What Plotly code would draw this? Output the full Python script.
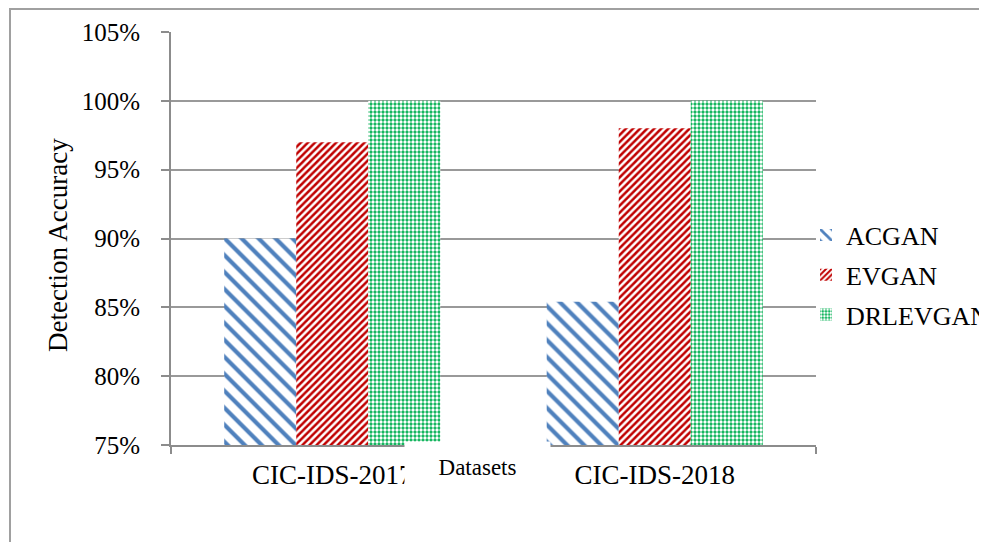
import plotly.graph_objects as go

categories = ["CIC-IDS-2017", "CIC-IDS-2018"]
acgan = [0.90, 0.854]
evgan = [0.97, 0.98]
drlevgan = [1.00, 1.00]
y_ticks = [0.75, 0.80, 0.85, 0.90, 0.95, 1.00, 1.05]
y_tick_labels = ["75%", "80%", "85%", "90%", "95%", "100%", "105%"]

FONT = "Liberation Serif, Times New Roman, serif"

# page body has a default offset; compensate so the plot sits where the reference has it
OX, OY = 8, 10
L, T = 171 - OX, 34 - OY
PW, PH = 645, 413

fig = go.Figure()
fig.add_trace(go.Bar(
    name="ACGAN", x=categories, y=acgan, legendgroup="a",
    marker=dict(color="#4F81BD", line=dict(width=0),
                pattern=dict(shape="\\", fgcolor="#4F81BD", bgcolor="white",
                             size=12, solidity=0.35, fgopacity=1)),
))
fig.add_trace(go.Bar(
    name="EVGAN", x=categories, y=evgan, legendgroup="b",
    marker=dict(color="#C00000", line=dict(width=0),
                pattern=dict(shape="/", fgcolor="#C00000", bgcolor="white",
                             size=5, solidity=0.5, fgopacity=1)),
))
fig.add_trace(go.Bar(
    name="DRLEVGAN", x=categories, y=drlevgan, legendgroup="c",
    marker=dict(color="#00B050", line=dict(width=0),
                pattern=dict(shape=".", fgcolor="white", bgcolor="#00B050",
                             size=4, solidity=0.55, fgopacity=1)),
))

fig.update_layout(
    width=987, height=542,
    margin=dict(l=L, r=987 - L - PW, t=T, b=542 - T - PH, autoexpand=False),
    paper_bgcolor="white", plot_bgcolor="white",
    barmode="group", bargap=0.33, bargroupgap=0,
    font=dict(family=FONT, size=25, color="black"),
    showlegend=True,
    legend=dict(x=(806 - 171) / PW, xanchor="left", y=(447 - 277) / PH, yanchor="middle",
                font=dict(family=FONT, size=26, color="black"),
                bgcolor="rgba(0,0,0,0)", itemwidth=30, tracegroupgap=3),
    xaxis=dict(
        type="category", showgrid=False, showline=True, linecolor="#8C8C8C", linewidth=2,
        ticks="outside", tickson="boundaries", ticklen=7, tickcolor="#8C8C8C", tickwidth=2,
        ticklabelstandoff=5,
        tickfont=dict(family=FONT, size=27, color="black"), automargin=False,
    ),
    yaxis=dict(
        range=[0.75, 1.05], tickvals=y_ticks, ticktext=y_tick_labels,
        showgrid=True, gridcolor="#999999", gridwidth=2,
        showline=True, linecolor="#8C8C8C", linewidth=2,
        ticks="outside", ticklen=8, tickcolor="#8C8C8C", tickwidth=2,
        ticklabelstandoff=16, zeroline=False, automargin=False,
        tickfont=dict(family=FONT, size=25, color="black"),
    ),
)

# outer chart frame
fig.add_shape(type="rect", xref="paper", yref="paper",
              x0=(10 - 171) / PW, x1=2.0, y0=-1.0, y1=(447 - 11) / PH,
              line=dict(color="#A0A0A0", width=2), fillcolor="rgba(0,0,0,0)", layer="below")

# y-axis title
fig.add_annotation(text="Detection Accuracy", xref="paper", yref="paper",
                   x=(58 - 171) / PW, y=(447 - 247) / PH, textangle=-90,
                   xanchor="center", yanchor="middle", showarrow=False,
                   font=dict(family=FONT, size=27, color="black"))

# "Datasets" axis title with its white box
fig.add_annotation(text="Datasets", xref="paper", yref="paper",
                   x=(477.5 - 171) / PW, y=(447 - 469) / PH,
                   xanchor="center", yanchor="middle", showarrow=False,
                   width=145, height=50, bgcolor="white", borderpad=0,
                   font=dict(family=FONT, size=23, color="black"))

fig.write_html("out.html")
